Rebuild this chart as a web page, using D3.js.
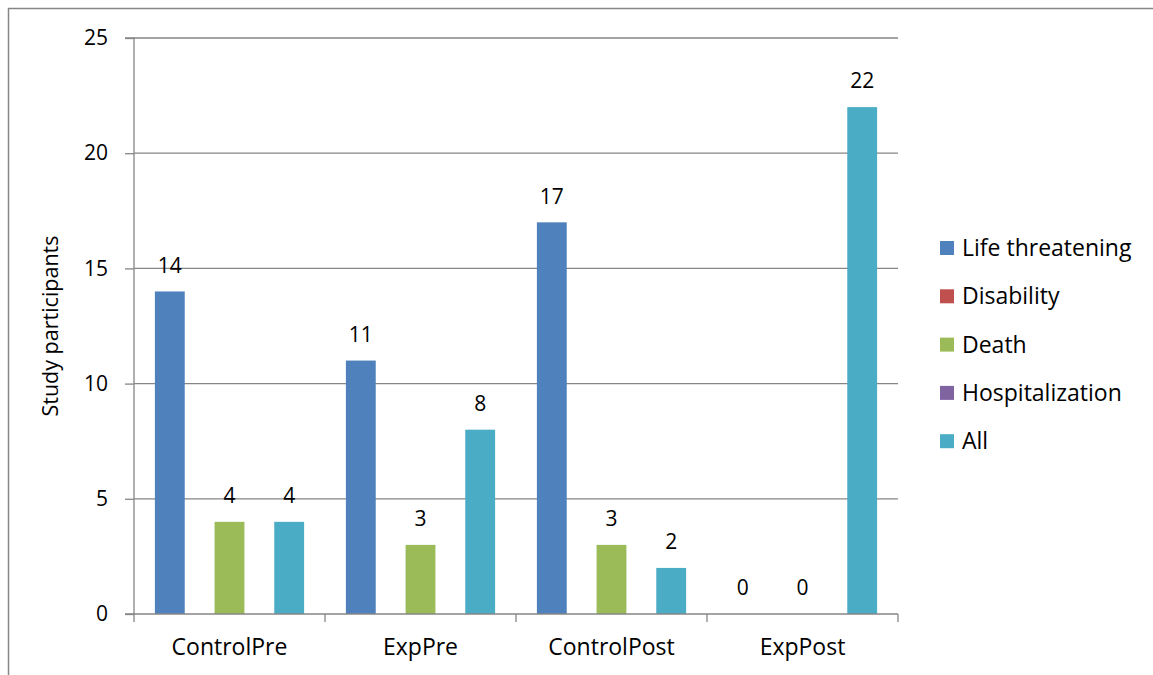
<!DOCTYPE html>
<html>
<head>
<meta charset="utf-8">
<script src="https://cdn.jsdelivr.net/npm/d3@7"></script>
<style>
  html, body { margin: 0; padding: 0; background: #fff; }
  svg { display: block; font-family: "Open Sans", "Noto Sans", sans-serif; }
</style>
</head>
<body>
<svg id="chart" width="1153" height="675"></svg>
<script>
const categories = ["ControlPre", "ExpPre", "ControlPost", "ExpPost"];
const seriesNames = ["Life threatening", "Disability", "Death", "Hospitalization", "All"];
const lifeThreatening = [14, 11, 17, 0];
const disability = [null, null, null, null];
const death = [4, 3, 3, 0];
const hospitalization = [null, null, null, null];
const all = [4, 8, 2, 22];
const yTicks = [0, 5, 10, 15, 20, 25];
const colors = ["#4F81BD", "#C0504D", "#9BBB59", "#8064A2", "#4BACC6"];

const seriesValues = [lifeThreatening, disability, death, hospitalization, all];

const svg = d3.select("#chart");
const W = 1153, H = 675;
const plotL = 134, plotR = 898, plotT = 38, plotB = 614;

// chart area border
svg.append("path")
  .attr("d", `M8.5,${H} V8.5 H${W}`)
  .attr("fill", "none").attr("stroke", "#868686").attr("stroke-width", 1.5);

const x0 = d3.scaleBand().domain(categories).range([plotL, plotR]).padding(0);
const x1 = d3.scaleBand().domain(seriesNames).range([0, x0.bandwidth()]).paddingInner(0).paddingOuter(0.7);
const y = d3.scaleLinear().domain([0, 25]).range([plotB, plotT]);

// gridlines
svg.append("g").selectAll("line").data(yTicks.filter(d => d > 0)).join("line")
  .attr("x1", plotL).attr("x2", plotR)
  .attr("y1", d => y(d)).attr("y2", d => y(d))
  .attr("stroke", "#868686").attr("stroke-width", 1.3);

// y axis
const yAxis = d3.axisLeft(y).tickValues(yTicks).tickSize(9).tickPadding(17).tickFormat(d3.format("d"));
const gy = svg.append("g").attr("transform", `translate(${plotL},0)`).call(yAxis);
gy.select(".domain").attr("stroke", "#868686").attr("stroke-width", 1.3).attr("d", `M-9,${plotT}H0V${plotB}H-9`);
gy.selectAll(".tick line").attr("stroke", "#868686").attr("stroke-width", 1.3);
gy.selectAll(".tick text").attr("font-size", 21).attr("fill", "#000").attr("font-family", "Open Sans");

// bars
const groups = svg.append("g").selectAll("g").data(categories).join("g")
  .attr("transform", d => `translate(${x0(d)},0)`);
groups.selectAll("rect")
  .data((c, i) => seriesNames.map((s, j) => ({ s, j, v: seriesValues[j][i] })).filter(d => d.v !== null && d.v > 0))
  .join("rect")
  .attr("x", d => x1(d.s)).attr("width", x1.bandwidth())
  .attr("y", d => y(d.v)).attr("height", d => y(0) - y(d.v))
  .attr("fill", d => colors[d.j]);

// data labels
groups.selectAll("text")
  .data((c, i) => seriesNames.map((s, j) => ({ s, j, v: seriesValues[j][i] })).filter(d => d.v !== null))
  .join("text")
  .attr("x", d => x1(d.s) + x1.bandwidth() / 2)
  .attr("y", d => y(d.v) - 26)
  .attr("dy", "0.35em")
  .attr("text-anchor", "middle")
  .attr("font-size", 21).attr("fill", "#000")
  .text(d => d.v);

// x axis
const xAxis = d3.axisBottom(x0).tickSize(0).tickPadding(25);
const gx = svg.append("g").attr("transform", `translate(0,${plotB})`).call(xAxis);
gx.select(".domain").attr("stroke", "#868686").attr("stroke-width", 1.3).attr("d", `M${plotL},0H${plotR}`);
gx.selectAll(".tick text").attr("font-size", 23).attr("fill", "#000").attr("font-family", "Open Sans");
// category boundary ticks
const bounds = categories.map(c => x0(c)).concat([x0(categories[categories.length - 1]) + x0.bandwidth()]);
gx.append("g").selectAll("line").data(bounds).join("line")
  .attr("x1", d => d).attr("x2", d => d).attr("y1", 0).attr("y2", 8)
  .attr("stroke", "#868686").attr("stroke-width", 1.3);

// y axis title
svg.append("text")
  .attr("transform", `translate(50,${(plotT + plotB) / 2}) rotate(-90)`)
  .attr("text-anchor", "middle").attr("dy", "0.35em")
  .attr("font-size", 21.5).attr("fill", "#000")
  .text("Study participants");

// legend
const legend = svg.append("g").selectAll("g").data(seriesNames).join("g")
  .attr("transform", (d, i) => `translate(940,${241 + i * 48.3})`);
legend.append("rect").attr("width", 14).attr("height", 14).attr("fill", (d, i) => colors[i]);
legend.append("text").attr("x", 22).attr("y", 7).attr("dy", "0.35em")
  .attr("font-size", 23).attr("fill", "#000").text(d => d);
</script>
</body>
</html>
